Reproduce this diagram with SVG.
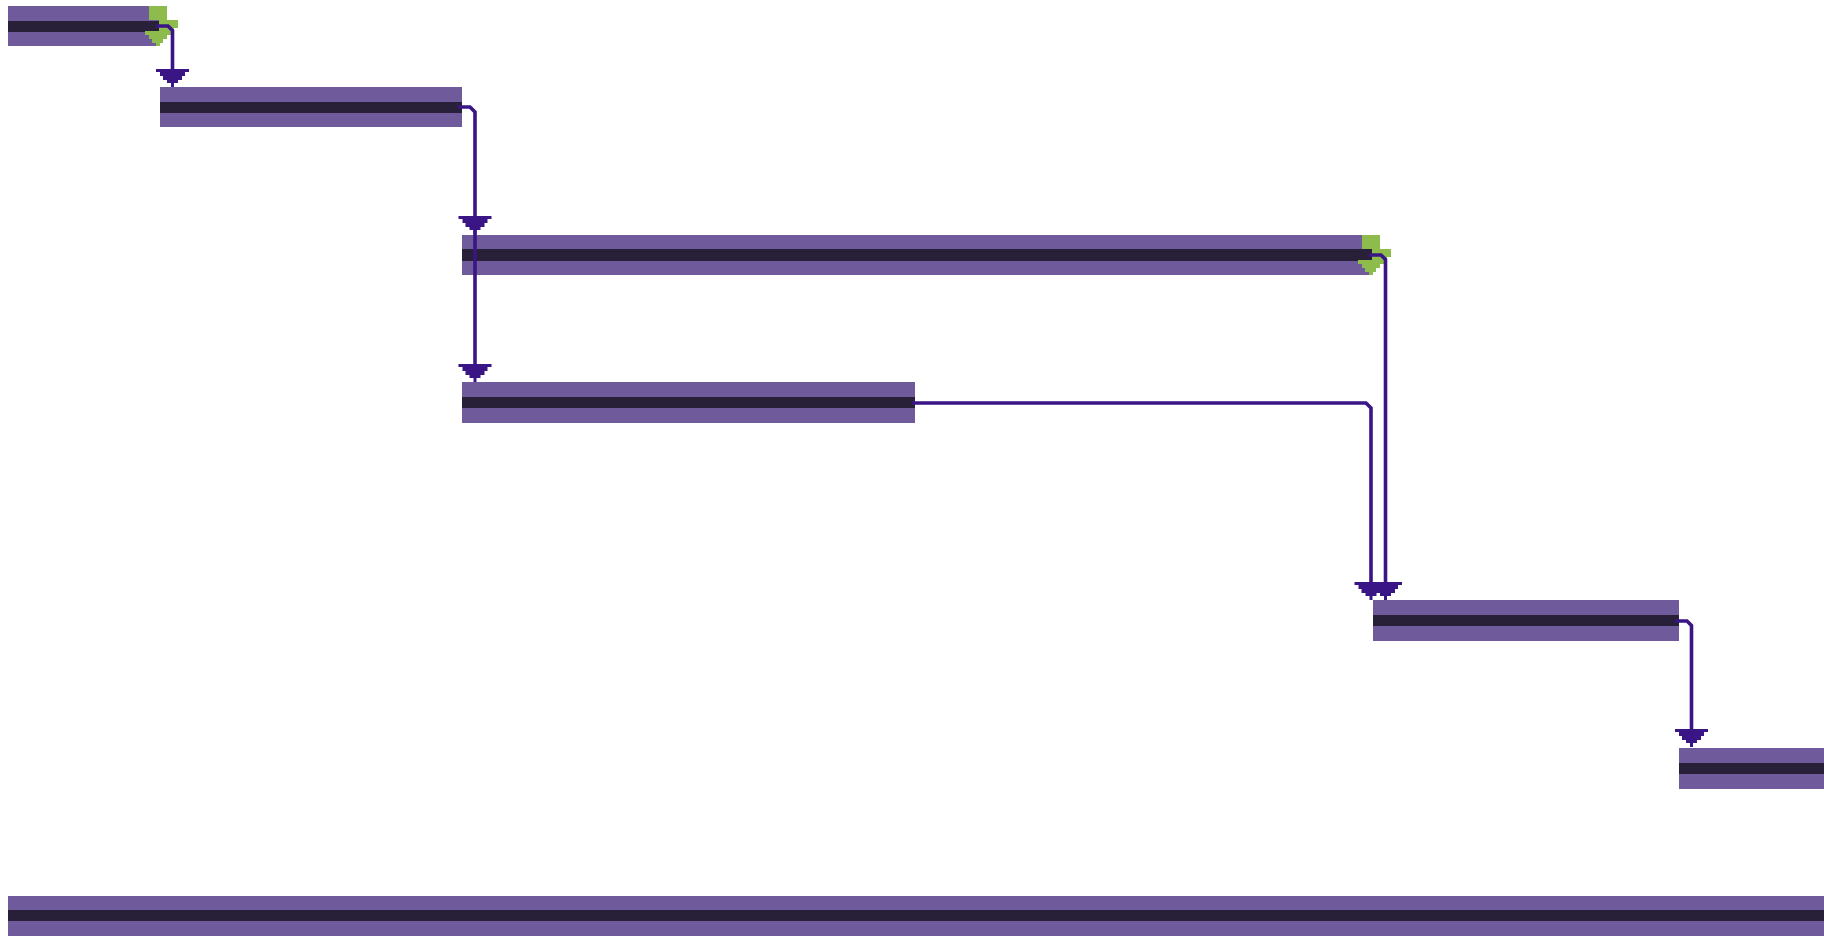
<svg xmlns="http://www.w3.org/2000/svg" xmlns:xlink="http://www.w3.org/1999/xlink" width="1824" height="937" viewBox="0 0 1824 937">
<style>
.bar{fill:#6f5b9b}
.band{fill:#272038}
.ms{fill:#8dbb4c}
.conn{fill:none;stroke:#3a1585;stroke-width:3.6}
.ah{fill:#3a1585}
</style>
<defs>
<path id="ah" d="M-16.5,0 H16.5 V3 H12.5 V7 H9.5 V11 H5.5 V14 H1.5 V18 H-1.5 V14 H-5.5 V11 H-9.5 V7 H-12.5 V3 H-16.5 Z"/>
<path id="ms" d="M-11,0 H7 V14 H18 V22 H14 V25 H11 V29 H7 V33 H3 V37 H0 V40 H-4 V37 H-8 V33 H-11 V29 H-15 V25 H-1 V14 H-11 Z"/>
</defs>
<rect width="1824" height="937" fill="#ffffff"/>
<g id="task1"><rect class="bar" x="8" y="6" width="152" height="40"/><rect class="band" x="8" y="21" width="152" height="11"/><use href="#ms" class="ms" x="160" y="6"/></g>
<g id="task2"><rect class="bar" x="160" y="87" width="302" height="40"/><rect class="band" x="160" y="102" width="302" height="11"/></g>
<g id="task3"><rect class="bar" x="462" y="235" width="911" height="40"/><rect class="band" x="462" y="249" width="911" height="12"/><use href="#ms" class="ms" x="1373" y="235"/></g>
<g id="task4"><rect class="bar" x="462" y="382" width="453" height="41"/><rect class="band" x="462" y="397" width="453" height="11"/></g>
<g id="task5"><rect class="bar" x="1373" y="600" width="306" height="41"/><rect class="band" x="1373" y="615" width="306" height="11"/></g>
<g id="task6"><rect class="bar" x="1679" y="748" width="145" height="41"/><rect class="band" x="1679" y="763" width="145" height="11"/></g>
<g id="summary"><rect class="bar" x="8" y="896" width="1816" height="40"/><rect class="band" x="8" y="910" width="1816" height="11"/></g>
<g id="connectors">
<path class="conn" d="M156,26 H168 L172.5,30.5 V70"/>
<use href="#ah" class="ah" x="172.5" y="69"/>
<path class="conn" d="M458,107 H470 L475,112 V217"/>
<use href="#ah" class="ah" x="475" y="216"/>
<path class="conn" d="M475,217 V365"/>
<use href="#ah" class="ah" x="475" y="364"/>
<path class="conn" d="M1369,255 H1381 L1385.5,259.5 V583"/>
<path class="conn" d="M912,403 H1366 L1371,408 V583"/>
<use href="#ah" class="ah" x="1371" y="582"/>
<use href="#ah" class="ah" x="1385.5" y="582"/>
<path class="conn" d="M1675,621 H1687 L1691.5,625.5 V730"/>
<use href="#ah" class="ah" x="1691.5" y="729"/>
</g>
</svg>
